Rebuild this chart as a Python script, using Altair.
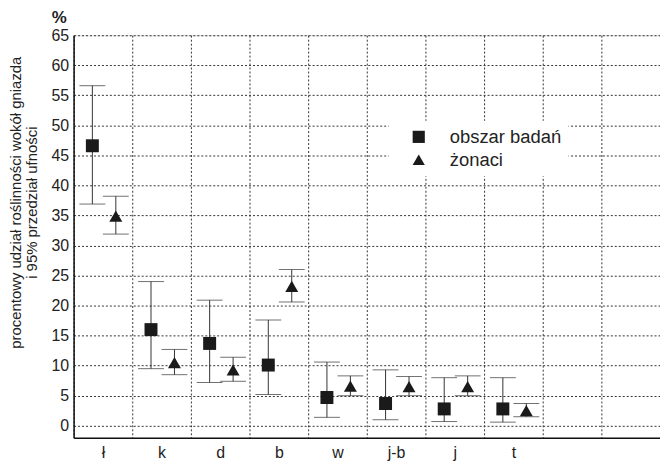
import altair as alt
import pandas as pd

categories = ["ł", "k", "d", "b", "w", "j-b", "j", "t", " ", "  "]
shown = ["ł", "k", "d", "b", "w", "j-b", "j", "t"]
series_names = ["obszar badań", "żonaci"]

# obszar badań (squares)
area_mean = [46.6, 16.0, 13.7, 10.1, 4.7, 3.7, 2.8, 2.8]
area_lo = [36.9, 9.5, 7.2, 5.2, 1.4, 1.0, 0.7, 0.6]
area_hi = [56.6, 24.0, 20.9, 17.6, 10.6, 9.3, 8.0, 8.0]

# żonaci (triangles)
male_mean = [34.9, 10.5, 9.3, 23.2, 6.6, 6.5, 6.5, 2.5]
male_lo = [31.9, 8.5, 7.4, 20.6, 5.0, 5.0, 5.0, 1.5]
male_hi = [38.2, 12.7, 11.4, 26.0, 8.3, 8.2, 8.3, 3.7]

y_ticks = list(range(0, 70, 5))

rows = []
for i, c in enumerate(shown):
    rows.append({"cat": c, "series": series_names[0], "mean": area_mean[i], "lo": area_lo[i], "hi": area_hi[i]})
    rows.append({"cat": c, "series": series_names[1], "mean": male_mean[i], "lo": male_lo[i], "hi": male_hi[i]})
df = pd.DataFrame(rows)

FONT = "Liberation Sans"
TXT = "#222222"

x_axis = alt.Axis(
    title=None, labelAngle=0, ticks=False, tickBand="extent", grid=True,
    gridDash=[2, 2], gridColor="#333333", gridWidth=1,
    labelFontSize=16, labelPadding=7, labelColor=TXT, labelFont=FONT,
    domainColor="#111111", domainWidth=1.5,
)
x_enc = alt.X(
    "cat:N",
    sort=categories,
    scale=alt.Scale(domain=categories, paddingInner=0, paddingOuter=0),
    axis=x_axis,
)
xo_enc = alt.XOffset(
    "series:N",
    sort=series_names,
    scale=alt.Scale(domain=series_names, paddingOuter=0.25, paddingInner=0, align=0.6),
)
y_scale = alt.Scale(domain=[-2, 65], nice=False, zero=False)
y_axis = alt.Axis(
    title=["procentowy udział roślinności wokół gniazda", "i 95% przedział ufności"],
    values=y_ticks, ticks=False, grid=True, gridDash=[2, 2], gridColor="#333333", gridWidth=1,
    labelFontSize=16, labelPadding=5, labelColor=TXT, labelFont=FONT, labelOverlap=False,
    domainColor="#111111", domainWidth=1.5,
    titleFontSize=15, titleFontWeight="normal", titleColor=TXT, titleFont=FONT,
    titleAngle=270, titleX=-58, titleY=168, titleAlign="center", titleBaseline="middle",
    titleLineHeight=16,
)

base = alt.Chart(df)

rules = base.mark_rule(color="#333333", strokeWidth=1).encode(
    x=x_enc, xOffset=xo_enc,
    y=alt.Y("lo:Q", scale=y_scale, axis=y_axis),
    y2="hi:Q",
)
ticks_lo = base.mark_tick(color="#333333", thickness=1, size=26, orient="horizontal").encode(
    x=x_enc, xOffset=xo_enc, y=alt.Y("lo:Q", scale=y_scale, axis=y_axis)
)
ticks_hi = base.mark_tick(color="#333333", thickness=1, size=26, orient="horizontal").encode(
    x=x_enc, xOffset=xo_enc, y=alt.Y("hi:Q", scale=y_scale, axis=y_axis)
)
points = base.mark_point(filled=True, opacity=1, size=170, color="#1a1a1a").encode(
    x=x_enc, xOffset=xo_enc,
    y=alt.Y("mean:Q", scale=y_scale, axis=y_axis),
    shape=alt.Shape(
        "series:N", sort=series_names,
        scale=alt.Scale(domain=series_names, range=["square", "triangle-up"]),
        legend=alt.Legend(
            title=None, orient="none", legendX=317, legendY=86,
            fillColor="white", padding=7, symbolOffset=14, labelFontSize=18.5, labelFont=FONT,
            labelColor=TXT, symbolSize=150, rowPadding=4, labelOffset=22,
            symbolFillColor="#1a1a1a", symbolStrokeColor="#1a1a1a",
        ),
    ),
)

chart = (
    alt.layer(rules, ticks_lo, ticks_hi, points)
    .properties(
        width=590, height=405,
        padding={"left": 0, "top": 0, "right": 0, "bottom": 0},
        title=alt.TitleParams("%", anchor="start", frame="group", dx=-22, fontSize=17,
                              fontWeight="bold", font=FONT, color=TXT, offset=0),
    )
    .configure_view(stroke="#111111", strokeWidth=1.5)
    .configure(background="white")
)

chart.save("out.html", embed_options={"renderer": "svg", "actions": False})
